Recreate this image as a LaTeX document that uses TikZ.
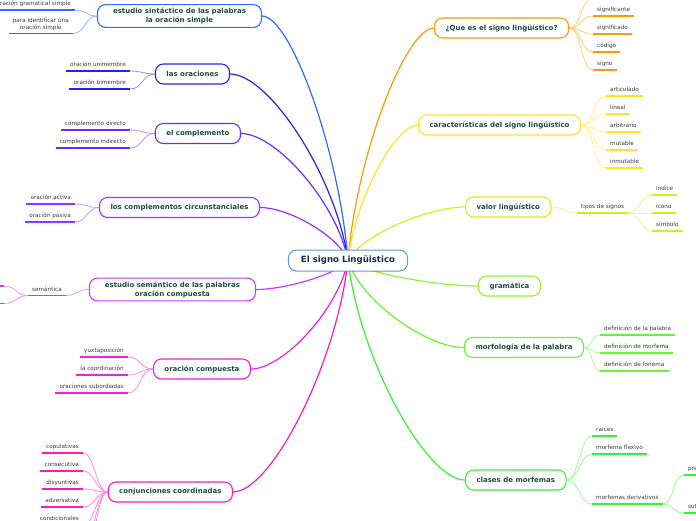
\documentclass[tikz,border=0pt]{standalone}
\usepackage{fontspec}
\setmainfont{DejaVu Sans}
\usepackage{tikz}
\usetikzlibrary{backgrounds}
\usepackage{xcolor}

\definecolor{cRoot}{HTML}{5B9BD5}
\definecolor{cRootTxt}{HTML}{1B2A4E}
\definecolor{cTxt}{HTML}{1F4E3D}
\definecolor{cSub}{HTML}{3A3A3A}
\definecolor{cSin}{HTML}{2F6BFF}
\definecolor{cOra}{HTML}{2323F5}
\definecolor{cCom}{HTML}{6A2BFF}
\definecolor{cCir}{HTML}{9A30FF}
\definecolor{cSem}{HTML}{C23CFF}
\definecolor{cOcp}{HTML}{EE22E0}
\definecolor{cCnj}{HTML}{FF1AB4}
\definecolor{cQue}{HTML}{FF9A00}
\definecolor{cCar}{HTML}{FFE61A}
\definecolor{cVal}{HTML}{D2F01E}
\definecolor{cGra}{HTML}{90F530}
\definecolor{cMor}{HTML}{66F533}
\definecolor{cCla}{HTML}{33F533}

\begin{document}
\begin{tikzpicture}[
  x=1pt, y=-1pt,
  root/.style={draw=cRoot, line width=1pt, fill=white, rounded corners=8pt,
               minimum height=21pt, inner xsep=12.5pt, text=cRootTxt,
               font=\bfseries\fontsize{8.6}{10}\selectfont},
  mn/.style={draw=#1, line width=1.1pt, fill=white, rounded corners=8pt,
             minimum height=20pt, inner xsep=11pt, align=center, text=cTxt,
             font=\bfseries\fontsize{7}{9}\selectfont},
  lf/.style={font=\fontsize{5.7}{7}\selectfont, text=cSub, align=center,
             inner xsep=4pt, inner ysep=2.5pt, text height=4pt, text depth=1.5pt,
             append after command={(\tikzlastnode.south west)
               edge[draw=#1, line width=1.4pt] (\tikzlastnode.south east)}},
  lfL/.style={lf=#1, anchor=south east},
  lfR/.style={lf=#1, anchor=south west},
  br/.style={draw=#1, line width=1.2pt},
  sb/.style={draw=#1!50, line width=0.8pt},
  ul/.style={draw=#1, line width=1.4pt}
]
\useasboundingbox (0,0) rectangle (696,520);

% ================= centre =================
\node[root] (root) at (348,260.5) {El signo Lingüistico};

% ================= left main topics =================
\node[mn=cSin, anchor=east, inner xsep=15.5pt] (m1) at (262,16)
  {estudio sintáctico de las palabras\\la oración simple};
\node[mn=cOra, anchor=east] (m2) at (230,74) {las oraciones};
\node[mn=cCom, anchor=east] (m3) at (241,133.5) {el complemento};
\node[mn=cCir, anchor=east] (m4) at (260,207.5) {los complementos circunstanciales};
\node[mn=cSem, anchor=east, inner xsep=15.5pt] (m5) at (256,289.5)
  {estudio semántico de las palabras\\oración compuesta};
\node[mn=cOcp, anchor=east] (m6) at (251,369) {oración compuesta};
\node[mn=cCnj, anchor=east] (m7) at (233,492) {conjunciones coordinadas};

% ================= right main topics =================
\node[mn=cQue, anchor=west] (r1) at (434,28) {¿Que es el signo lingüístico?};
\node[mn=cCar, anchor=west] (r2) at (418,125) {características del signo lingüístico};
\node[mn=cVal, anchor=west] (r3) at (465,207) {valor lingüístico};
\node[mn=cGra, anchor=west] (r4) at (478,286) {gramática};
\node[mn=cMor, anchor=west] (r5) at (464,347.5) {morfología de la palabra};
\node[mn=cCla, anchor=west] (r6) at (465,480) {clases de morfemas};

% ================= left leaves =================
\node[lfL=cSin] (c11) at (75,10) {oración gramatical simple};
\node[lfL=cSin] (c12) at (73,33.5) {para identificar una\\oración simple};
\node[lfL=cOra] (c21) at (130,71) {oración unimembre};
\node[lfL=cOra] (c22) at (130,89) {oración bimembre};
\node[lfL=cCom] (c31) at (130,130) {complemento directo};
\node[lfL=cCom] (c32) at (130,148) {complemento indirecto};
\node[lfL=cCir] (c41) at (75,204) {oración activa};
\node[lfL=cCir] (c42) at (75,222) {oración pasiva};
\node[lfL=cSem] (c51) at (66,295.5) {semántica};
\coordinate (c511) at (4,286);
\coordinate (c512) at (4,303.5);
\node[lfL=cOcp] (c61) at (128,357) {yuxtaposición};
\node[lfL=cOcp] (c62) at (128,375) {la coordinación};
\node[lfL=cOcp] (c63) at (128,393) {oraciones subordiadas};
\node[lfL=cCnj] (c71) at (83,453) {copulativas};
\node[lfL=cCnj] (c72) at (83,471) {consecutiva};
\node[lfL=cCnj] (c73) at (83,489) {disyuntivas};
\node[lfL=cCnj] (c74) at (83,507) {adversativa};
\node[lfL=cCnj] (c75) at (83,525) {condicionales};
\coordinate (c76) at (83,543);
\coordinate (c77) at (83,561);

% ================= right leaves =================
\coordinate (d10) at (593,-2);
\node[lfR=cQue] (d11) at (593,16) {significante};
\node[lfR=cQue] (d12) at (593,34) {significado};
\node[lfR=cQue] (d13) at (593,52) {código};
\node[lfR=cQue] (d14) at (593,70) {signo};
\node[lfR=cCar] (d21) at (606,96) {articulado};
\node[lfR=cCar] (d22) at (606,114) {lineal};
\node[lfR=cCar] (d23) at (606,132) {arbitrario};
\node[lfR=cCar] (d24) at (606,150) {mutable};
\node[lfR=cCar] (d25) at (606,168) {inmutable};
\node[lfR=cVal] (d31) at (577,213) {tipos de signos};
\node[lfR=cVal] (d311) at (652,195) {índice};
\node[lfR=cVal] (d312) at (652,213) {icono};
\node[lfR=cVal] (d313) at (652,231) {símbolo};
\node[lfR=cMor] (d51) at (600,335) {definición de la palabra};
\node[lfR=cMor] (d52) at (600,353) {definición de morfema};
\node[lfR=cMor] (d53) at (600,371) {definición de fonema};
\node[lfR=cCla] (d61) at (592,436) {raíces};
\node[lfR=cCla] (d62) at (592,454) {morfema flexivo};
\node[lfR=cCla] (d63) at (592,504) {morfemas derivativos};
\node[lfR=cCla] (d631) at (684,475) {prefijos};
\node[lfR=cCla] (d632) at (684,513) {sufijos};

\begin{scope}[on background layer]
% ================= main branches =================
\draw[br=cSin] (root.center) .. controls +(-8.6,-110) and +(28.4,0) .. (m1.east);
\draw[br=cOra] (root.center) .. controls +(-11.8,-84) and +(39,0) .. (m2.east);
\draw[br=cCom] (root.center) .. controls +(-10.7,-57) and +(35.3,0) .. (m3.east);
\draw[br=cCir] (root.center) .. controls +(-8.8,-24) and +(29,0) .. (m4.east);
\draw[br=cSem] (root.center) .. controls +(-9.2,13) and +(30.4,0) .. (m5.east);
\draw[br=cOcp] (root.center) .. controls +(-9.7,49) and +(32,0) .. (m6.east);
\draw[br=cCnj] (root.center) .. controls +(-11.5,104) and +(38,0) .. (m7.east);
\draw[br=cQue] (root.center) .. controls +(8.6,-105) and +(-28.4,0) .. (r1.west);
\draw[br=cCar] (root.center) .. controls +(7,-61) and +(-23,0) .. (r2.west);
\draw[br=cVal] (root.center) .. controls +(11.7,-24) and +(-38.6,0) .. (r3.west);
\draw[br=cGra] (root.center) .. controls +(13,11.5) and +(-43,0) .. (r4.west);
\draw[br=cMor] (root.center) .. controls +(11.6,39) and +(-38.3,0) .. (r5.west);
\draw[br=cCla] (root.center) .. controls +(11.7,99) and +(-38.6,0) .. (r6.west);

% ================= left sub branches =================
\foreach \c in {c11,c12}
  \draw[sb=cSin] (m1.west) .. controls +(-12,0) and +(12,0) .. (\c.south east);
\foreach \c in {c21,c22}
  \draw[sb=cOra] (m2.west) .. controls +(-13,0) and +(13,0) .. (\c.south east);
\foreach \c in {c31,c32}
  \draw[sb=cCom] (m3.west) .. controls +(-13,0) and +(13,0) .. (\c.south east);
\foreach \c in {c41,c42}
  \draw[sb=cCir] (m4.west) .. controls +(-12,0) and +(12,0) .. (\c.south east);
\draw[sb=cSem] (m5.west) .. controls +(-12,0) and +(12,0) .. (c51.south east);
\foreach \c in {c511,c512}
  \draw[sb=cSem] (c51.south west) .. controls +(-12,0) and +(12,0) .. (\c);
\draw[ul=cSem] (c511) -- +(-30,0);
\draw[ul=cSem] (c512) -- +(-30,0);
\foreach \c in {c61,c62,c63}
  \draw[sb=cOcp] (m6.west) .. controls +(-13,0) and +(13,0) .. (\c.south east);
\foreach \c in {c71,c72,c73,c74,c75}
  \draw[sb=cCnj] (m7.west) .. controls +(-12,0) and +(12,0) .. (\c.south east);
\foreach \c in {c76,c77}
  \draw[sb=cCnj] (m7.west) .. controls +(-12,0) and +(12,0) .. (\c);

% ================= right sub branches =================
\draw[sb=cQue] (r1.east) .. controls +(12,0) and +(-12,0) .. (d10);
\draw[ul=cQue] (d10) -- +(42,0);
\foreach \c in {d11,d12,d13,d14}
  \draw[sb=cQue] (r1.east) .. controls +(12,0) and +(-12,0) .. (\c.south west);
\foreach \c in {d21,d22,d23,d24,d25}
  \draw[sb=cCar] (r2.east) .. controls +(13,0) and +(-13,0) .. (\c.south west);
\draw[sb=cVal] (r3.east) .. controls +(12,0) and +(-12,0) .. (d31.south west);
\foreach \c in {d311,d312,d313}
  \draw[sb=cVal] (d31.south east) .. controls +(12,0) and +(-12,0) .. (\c.south west);
\foreach \c in {d51,d52,d53}
  \draw[sb=cMor] (r5.east) .. controls +(8,0) and +(-8,0) .. (\c.south west);
\foreach \c in {d61,d62,d63}
  \draw[sb=cCla] (r6.east) .. controls +(12,0) and +(-12,0) .. (\c.south west);
\foreach \c in {d631,d632}
  \draw[sb=cCla] (d63.south east) .. controls +(11,0) and +(-11,0) .. (\c.south west);
\end{scope}
\end{tikzpicture}
\end{document}
